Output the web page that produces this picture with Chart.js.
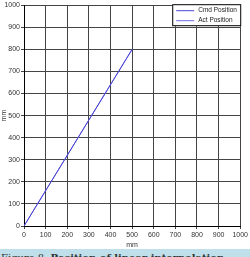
<!DOCTYPE html>
<html>
<head>
<meta charset="utf-8">
<script src="https://cdn.jsdelivr.net/npm/chart.js@4.4.0/dist/chart.umd.min.js"></script>
<style>
  html, body { margin: 0; padding: 0; background: #fff; width: 250px; height: 257px; overflow: hidden; }
  #wrap { position: relative; width: 250px; height: 249px; }
  #caption { position: absolute; left: 0; top: 249px; width: 250px; height: 8px; overflow: hidden;
    background: #bfe0ea; }
  #caption span { position: absolute; left: 1px; top: 3px; font: 10px "DejaVu Serif", serif; color: #333; white-space: nowrap; }
</style>
</head>
<body>
<div id="wrap"><canvas id="chart" width="250" height="249"></canvas></div>
<div id="caption"><span>Figure 8. <b>Position of linear interpolation</b></span></div>
<script>
// данные
const seriesNames = ['Cmd Position', 'Act Position'];
const seriesColors = ['#4b44d6', '#6c6ce2'];
const cmdX = [0, 500];
const cmdY = [0, 800];
const actX = [0, 500];
const actY = [0, 800];
const axisTitle = 'mm';

const toPoints = (xs, ys) => xs.map((x, i) => ({ x: x, y: ys[i] }));

// легенда в рамке внутри области графика
const boxLegend = {
  id: 'boxLegend',
  afterDraw(chart) {
    const ctx = chart.ctx;
    const area = chart.chartArea;
    const w = 69, h = 22;
    const x0 = area.right - w + 1, y0 = area.top - 1;
    ctx.save();
    ctx.fillStyle = '#fff';
    ctx.fillRect(x0, y0, w, h);
    ctx.strokeStyle = '#000';
    ctx.lineWidth = 1;
    ctx.strokeRect(x0 + 0.5, y0 + 0.5, w - 1, h - 1);
    ctx.font = '6.5px "Liberation Sans", Arial, sans-serif';
    ctx.textBaseline = 'middle';
    chart.data.datasets.forEach((ds, i) => {
      const y = y0 + 6 + i * 10;
      ctx.strokeStyle = ds.borderColor;
      ctx.beginPath();
      ctx.moveTo(x0 + 4, y + 0.5);
      ctx.lineTo(x0 + 22, y + 0.5);
      ctx.stroke();
      ctx.fillStyle = '#222';
      ctx.fillText(ds.label, x0 + 26, y + 0.5);
    });
    ctx.restore();
  }
};

const tickFont = { family: '"Liberation Sans", Arial, sans-serif', size: 7 };
const plain = v => String(v);

new Chart(document.getElementById('chart').getContext('2d'), {
  type: 'scatter',
  data: {
    datasets: [
      { label: seriesNames[0], data: toPoints(cmdX, cmdY), borderColor: seriesColors[0], borderWidth: 1, showLine: true, pointRadius: 0 },
      { label: seriesNames[1], data: toPoints(actX, actY), borderColor: seriesColors[1], borderWidth: 1, showLine: true, pointRadius: 0 }
    ]
  },
  options: {
    responsive: false,
    animation: false,
    layout: { padding: { top: 5, right: 8, left: 0, bottom: 0 } },
    plugins: { legend: { display: false }, tooltip: { enabled: false } },
    scales: {
      x: {
        type: 'linear', min: 0, max: 1000,
        ticks: { stepSize: 100, color: '#333', font: tickFont, padding: 2, maxRotation: 0, callback: plain },
        grid: { color: '#444', lineWidth: 1, tickLength: 3 },
        border: { color: '#000', width: 1 },
        title: { display: true, text: axisTitle, color: '#333', font: tickFont, padding: { top: 1, bottom: 0 } },
        afterFit(scale) { scale.height = 23; }
      },
      y: {
        type: 'linear', min: 0, max: 1000,
        ticks: { stepSize: 100, color: '#333', font: tickFont, padding: 1, callback: plain },
        grid: { color: '#444', lineWidth: 1, tickLength: 3 },
        border: { color: '#000', width: 1 },
        title: { display: true, text: axisTitle, color: '#333', font: tickFont, padding: 0 },
        afterFit(scale) { scale.width = 24; }
      }
    }
  },
  plugins: [boxLegend]
});
</script>
</body>
</html>
